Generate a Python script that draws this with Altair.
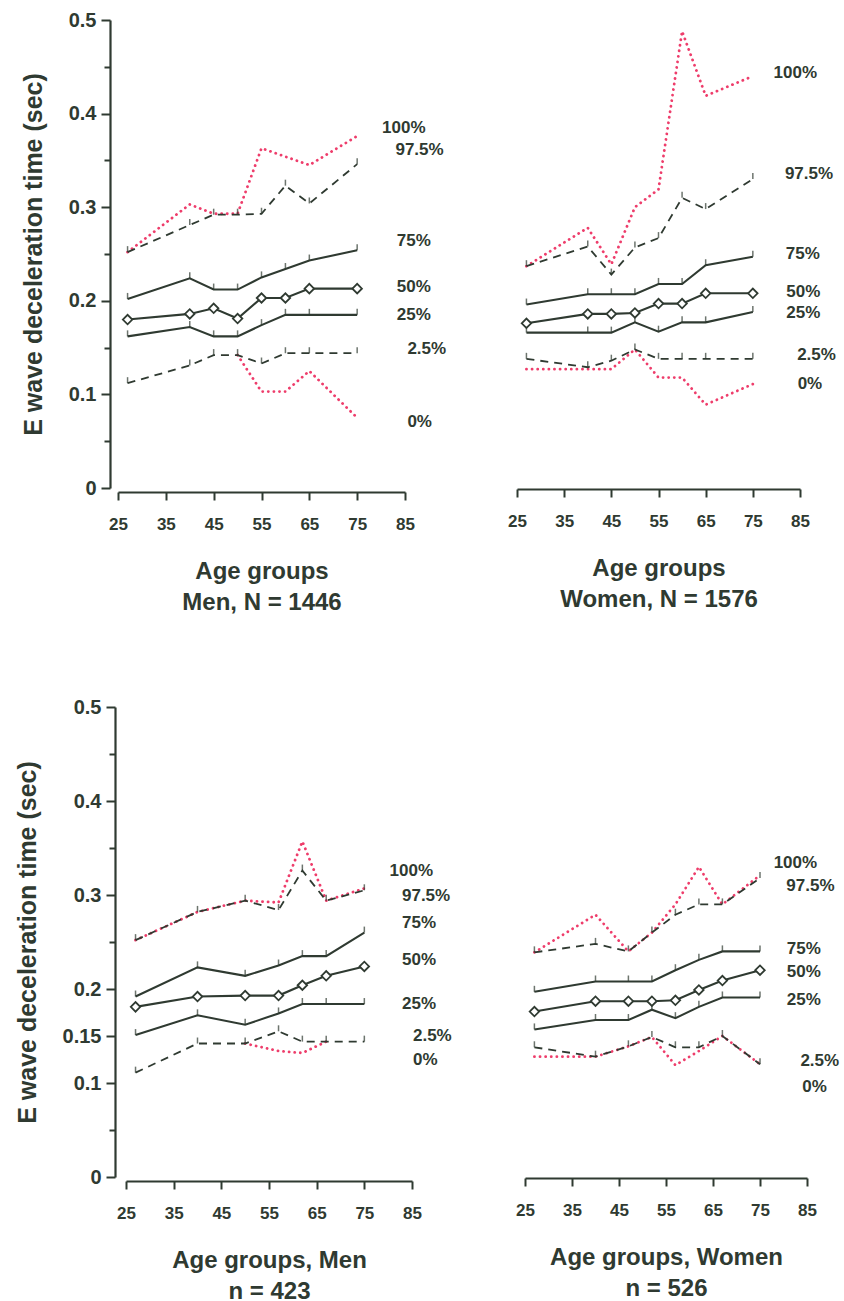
import altair as alt
import pandas as pd

DARK = "#2f3a31"
PINK = "#ee3d6b"
FONT = "Liberation Sans"
SERIES = ["100%", "97.5%", "75%", "50%", "25%", "2.5%", "0%"]
X_TICKS = [25, 35, 45, 55, 65, 75, 85]
Y_TICKS = [0, 0.05, 0.1, 0.15, 0.2, 0.25, 0.3, 0.35, 0.4, 0.45, 0.5]

# ---------- Top-left: Men, N = 1446 ----------
tl_ages = [27, 40, 45, 50, 55, 60, 65, 75]
tl_p100 = [0.252, 0.303, 0.293, 0.293, 0.363, 0.354, 0.345, 0.376]
tl_p975 = [0.252, 0.281, 0.292, 0.292, 0.293, 0.323, 0.304, 0.346]
tl_p75 = [0.202, 0.224, 0.212, 0.212, 0.225, 0.234, 0.243, 0.254]
tl_p50 = [0.180, 0.186, 0.192, 0.181, 0.203, 0.203, 0.213, 0.213]
tl_p25 = [0.162, 0.172, 0.162, 0.162, 0.174, 0.185, 0.185, 0.185]
tl_p025 = [0.112, 0.131, 0.142, 0.142, 0.133, 0.144, 0.144, 0.144]
tl_p0 = [None, None, None, 0.142, 0.103, 0.103, 0.125, 0.075]
tl_lab_x = [80.2, 83.0, 83.3, 83.3, 83.3, 85.5, 85.5]
tl_lab_y = [0.385, 0.361, 0.264, 0.215, 0.185, 0.148, 0.070]

# ---------- Top-right: Women, N = 1576 ----------
tr_ages = [27, 40, 45, 50, 55, 60, 65, 75]
tr_p100 = [0.237, 0.278, 0.239, 0.300, 0.319, 0.488, 0.419, 0.440]
tr_p975 = [0.237, 0.258, 0.228, 0.257, 0.267, 0.310, 0.298, 0.330]
tr_p75 = [0.196, 0.207, 0.207, 0.207, 0.218, 0.218, 0.238, 0.247]
tr_p50 = [0.176, 0.186, 0.186, 0.187, 0.197, 0.197, 0.208, 0.208]
tr_p25 = [0.166, 0.166, 0.166, 0.177, 0.167, 0.177, 0.177, 0.188]
tr_p025 = [0.138, 0.129, 0.136, 0.148, 0.138, 0.138, 0.138, 0.138]
tr_p0 = [0.127, 0.127, 0.127, 0.148, 0.118, 0.118, 0.089, 0.111]
tr_lab_x = [79.4, 81.8, 82.0, 82.1, 82.1, 84.4, 84.5]
tr_lab_y = [0.443, 0.335, 0.250, 0.209, 0.187, 0.142, 0.111]

# ---------- Bottom-left: Men, n = 423 ----------
bl_ages = [27, 40, 50, 57, 62, 67, 75]
bl_p100 = [0.252, 0.282, 0.294, 0.292, 0.357, 0.294, 0.307]
bl_p975 = [0.252, 0.282, 0.294, 0.284, 0.326, 0.294, 0.305]
bl_p75 = [0.192, 0.223, 0.214, 0.225, 0.235, 0.235, 0.260]
bl_p50 = [0.181, 0.192, 0.193, 0.193, 0.204, 0.214, 0.224]
bl_p25 = [0.151, 0.172, 0.162, 0.174, 0.184, 0.184, 0.184]
bl_p025 = [0.111, 0.142, 0.142, 0.155, 0.144, 0.144, 0.144]
bl_p0 = [None, None, 0.142, 0.134, 0.132, 0.144, None]
bl_lab_x = [80.3, 82.9, 82.9, 82.9, 82.9, 85.2, 85.2]
bl_lab_y = [0.326, 0.299, 0.270, 0.231, 0.184, 0.150, 0.125]

# ---------- Bottom-right: Women, n = 526 ----------
br_ages = [27, 40, 47, 52, 57, 62, 67, 75]
br_p100 = [0.239, 0.279, 0.240, 0.260, 0.290, 0.330, 0.290, 0.321]
br_p975 = [0.239, 0.248, 0.240, 0.260, 0.279, 0.290, 0.290, 0.318]
br_p75 = [0.197, 0.208, 0.208, 0.208, 0.220, 0.231, 0.240, 0.240]
br_p50 = [0.176, 0.187, 0.187, 0.187, 0.188, 0.199, 0.209, 0.220]
br_p25 = [0.157, 0.167, 0.167, 0.178, 0.169, 0.181, 0.191, 0.191]
br_p025 = [0.138, 0.128, 0.139, 0.149, 0.138, 0.138, 0.150, 0.120]
br_p0 = [0.128, 0.128, 0.139, 0.149, 0.119, 0.134, 0.150, 0.120]
br_lab_x = [77.9, 80.6, 80.7, 80.7, 80.7, 83.6, 84.0]
br_lab_y = [0.334, 0.310, 0.243, 0.218, 0.188, 0.123, 0.096]


def long_df(ages, cols):
    rows = []
    for s, vals in zip(SERIES, cols):
        for a, v in zip(ages, vals):
            rows.append({"age": a, "value": v, "series": s})
    return pd.DataFrame(rows)


def panel(ages, cols, lab_x, lab_y, width, height, xrange, xtitle,
          show_y, major, y_offset, x_offset):
    df = long_df(ages, cols)
    labdf = pd.DataFrame({"age": lab_x, "value": lab_y, "series": SERIES})

    xscale = alt.Scale(domain=[25, 85], range=xrange, nice=False, zero=False)
    yscale = alt.Scale(domain=[0, 0.5], nice=False, zero=False)

    xaxis = alt.Axis(
        values=X_TICKS, title=xtitle, grid=False, offset=x_offset,
        domainColor=DARK, domainWidth=2.2, tickColor=DARK, tickWidth=2,
        tickSize=8, labelFont=FONT, labelFontWeight="bold", labelFontSize=17,
        labelColor=DARK, labelPadding=16, labelFlush=False,
        titleFont=FONT, titleFontWeight="bold", titleFontSize=24,
        titleColor=DARK, titlePadding=27, titleLineHeight=31,
    )
    if show_y:
        test = "indexof(%s, round(datum.value*100)) >= 0" % str(major)
        yaxis = alt.Axis(
            values=Y_TICKS, title="E wave deceleration time (sec)", grid=False,
            offset=y_offset, domainColor=DARK, domainWidth=2.2, tickColor=DARK,
            tickWidth=2,
            tickSize={"condition": {"test": test, "value": 9}, "value": 6},
            labelExpr=test + " ? format(datum.value, '.2~f') : ''",
            labelFont=FONT, labelFontWeight="bold", labelFontSize=20,
            labelColor=DARK, labelPadding=5, labelFlush=False,
            titleFont=FONT, titleFontWeight="bold", titleFontSize=25,
            titleColor=DARK, titlePadding=22,
        )
    else:
        yaxis = None

    x = alt.X("age:Q", scale=xscale, axis=xaxis)
    y = alt.Y("value:Q", scale=yscale, axis=yaxis)
    base = alt.Chart(df)

    def only(names):
        return alt.FieldOneOfPredicate(field="series", oneOf=names)

    pink = base.transform_filter(only(["100%", "0%"])).mark_line(
        color=PINK, strokeWidth=2.8, strokeDash=[0.1, 5.5], strokeCap="round"
    ).encode(x=x, y=y, detail="series:N")
    dashed = base.transform_filter(only(["97.5%", "2.5%"])).mark_line(
        color=DARK, strokeWidth=1.8, strokeDash=[8, 6]
    ).encode(x=x, y=y, detail="series:N")
    solid = base.transform_filter(only(["75%", "25%", "50%"])).mark_line(
        color=DARK, strokeWidth=2.1
    ).encode(x=x, y=y, detail="series:N")
    ticks = base.transform_filter(only(["97.5%", "75%", "25%", "2.5%"])).mark_tick(
        color=DARK, orient="vertical", size=6, thickness=1.5, yOffset=-3
    ).encode(x=x, y=y)
    diamonds = base.transform_filter(only(["50%"])).mark_point(
        shape="diamond", size=90, filled=True, fill="white", stroke=DARK,
        strokeWidth=1.8, opacity=1
    ).encode(x=x, y=y)
    labels = alt.Chart(labdf).mark_text(
        align="left", baseline="middle", font=FONT, fontWeight="bold",
        fontSize=17, color=DARK
    ).encode(x=x, y=y, text="series:N")

    return alt.layer(pink, dashed, solid, ticks, diamonds, labels).properties(
        width=width, height=height
    )


tl = panel(tl_ages, [tl_p100, tl_p975, tl_p75, tl_p50, tl_p25, tl_p025, tl_p0],
           tl_lab_x, tl_lab_y, 294, 468, [0, 287],
           ["Age groups", "Men, N = 1446"], True, [0, 10, 20, 30, 40, 50], 8, 4)
tr = panel(tr_ages, [tr_p100, tr_p975, tr_p75, tr_p50, tr_p25, tr_p025, tr_p0],
           tr_lab_x, tr_lab_y, 290, 468, [0, 283],
           ["Age groups", "Women, N = 1576"], False, [], 0, 1)
bl = panel(bl_ages, [bl_p100, bl_p975, bl_p75, bl_p50, bl_p25, bl_p025, bl_p0],
           bl_lab_x, bl_lab_y, 294, 470, [8, 294],
           ["Age groups, Men", "n = 423"], True, [0, 10, 15, 20, 30, 40, 50], 3, 4)
br = panel(br_ages, [br_p100, br_p975, br_p75, br_p50, br_p25, br_p025, br_p0],
           br_lab_x, br_lab_y, 290, 470, [8, 290],
           ["Age groups, Women", "n = 526"], False, [], 0, 1)

chart = alt.concat(
    tl, tr, bl, br, columns=2, bounds="flush",
    spacing={"row": 219, "column": 105},
).properties(
    padding={"left": 15, "top": 10, "right": 0, "bottom": 0},
    background="white",
).configure_view(stroke=None)

chart.save("out.html", embed_options={"renderer": "svg", "actions": False})
